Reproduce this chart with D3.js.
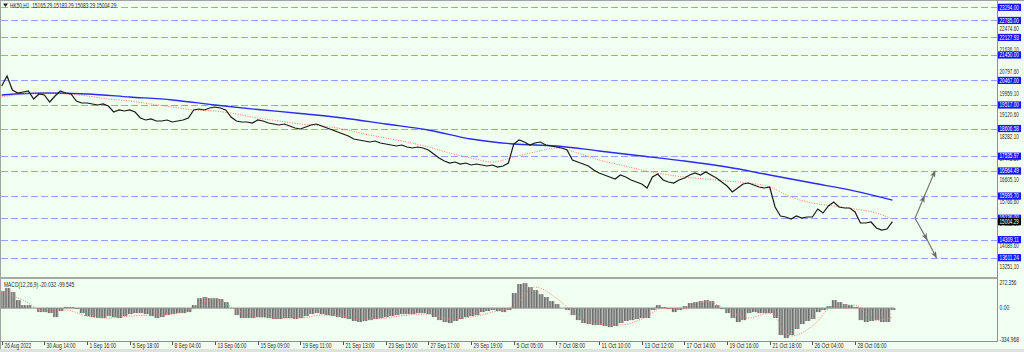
<!DOCTYPE html>
<html>
<head>
<meta charset="utf-8">
<script src="https://cdn.jsdelivr.net/npm/d3@7"></script>
<style>
body{margin:0;background:#f0fff0;}
svg{display:block;font-family:"Liberation Sans",Arial,sans-serif;}
</style>
</head>
<body>
<div id="chart"></div>
<script>
// HK50 H1 price chart with two moving averages, drawn levels and MACD(12,26,9) pane

var barStep = 4;          // one close value every 4 hourly bars
var closes = [20251,20637,20096,19980,20019,20057,19748,19941,19903,19632,
  19864,20057,19980,19941,19671,19593,19593,19555,19516,19555,
  19477,19245,19323,19284,19323,19245,19013,18936,18975,18897,
  18897,18936,18859,18897,18936,19013,19323,19361,19323,19400,
  19439,19400,19323,19052,18897,18859,18859,18820,18936,18897,
  18820,18781,18743,18781,18704,18627,18588,18665,18743,18781,
  18704,18627,18549,18472,18395,18317,18201,18163,18124,18085,
  18124,18047,18008,17969,17931,17969,17892,17853,17892,17853,
  17776,17621,17466,17351,17273,17312,17234,17273,17196,17234,
  17196,17157,17196,17118,17157,17273,18008,18163,18085,17969,
  18047,18085,17969,17931,17892,17853,17776,17389,17312,17234,
  17157,17002,16886,16809,16731,16654,16809,16731,16616,16538,
  16461,16306,16731,16847,16616,16538,16500,16616,16693,16809,
  16886,16809,16925,16809,16693,16538,16384,16152,16306,16461,
  16500,16422,16345,16306,16345,15571,15223,15185,15107,15223,
  15146,15185,15185,15494,15339,15610,15765,15571,15533,15533,
  15378,14953,14953,14991,14759,14682,14721,15004];

// slow MA (blue), one value every 32 bars plus the last bar
var maSlow = [19903,19980,19941,19825,19709,19516,19342,19187,19013,18781,
  18549,18201,18008,17931,17737,17544,17351,17118,16809,16500,16190,15842];
// fast MA (red dotted), one value every 16 bars plus the last bar
var maFast = [19825,19941,19980,19941,19864,19748,19671,19555,19439,19323,
  19284,19168,19013,18897,18781,18704,18588,18395,18240,18085,
  17892,17660,17466,17312,17505,17698,17853,17660,17389,17196,
  17002,16847,16731,16654,16577,16500,16345,15958,15726,15610,
  15494,15339,15107];

// MACD main (histogram), every 4 bars
var macdMain = [182,215,172,86,32,32,0,-43,-43,-54,
  -97,-32,11,11,-11,-54,-86,-97,-107,-107,
  -86,-97,-107,-86,-64,-54,-54,-64,-86,-107,
  -97,-75,-64,-54,-54,-43,32,107,118,107,
  107,97,64,0,-75,-107,-107,-107,-97,-97,
  -107,-118,-118,-107,-107,-118,-107,-86,-64,-54,
  -64,-75,-86,-97,-107,-118,-139,-150,-139,-129,
  -118,-107,-97,-86,-75,-64,-64,-64,-54,-54,
  -64,-97,-129,-150,-161,-139,-118,-97,-86,-75,
  -43,-32,-21,-32,-43,-21,161,258,268,225,
  193,150,118,75,43,0,-21,-75,-129,-161,
  -172,-182,-182,-193,-204,-193,-161,-139,-129,-118,
  -107,-107,-21,32,11,-11,-43,-21,21,54,
  64,75,86,75,32,-11,-54,-107,-150,-129,
  -54,-43,-54,-54,-54,-107,-290,-322,-290,-225,
  -172,-139,-118,-43,-21,21,86,64,43,32,
  11,-129,-150,-139,-129,-150,-150,-20.032];
// MACD signal (red dotted), every 16 bars plus the last bar
var macdSignal = [172,86,-32,-21,-86,-107,-86,-75,-64,0,
  97,-21,-97,-107,-107,-75,-86,-118,-107,-75,
  -64,-118,-97,-43,21,225,107,-86,-172,-182,
  -118,0,-11,75,-21,-107,-54,-300,-193,21,
  32,-129,-99.545];

var levels = [23294.00,22785.00,22127.93,21450.00,20467.00,19517.00,18606.58,
  17535.97,16964.49,15995.70,15136.00,14309.11,13611.24];
var priceTicks = [22474.60,21636.10,20797.60,19959.10,19120.60,18282.10,17443.60,
  16605.10,15766.60,14928.10,14089.60,13251.10];
var macdTicks = [272.356,0,-334.968];
var timeLabels = ["26 Aug 2022","30 Aug 14:00","1 Sep 16:00","5 Sep 18:00","8 Sep 04:00",
  "13 Sep 06:00","15 Sep 09:00","19 Sep 11:00","21 Sep 13:00","23 Sep 15:00",
  "27 Sep 17:00","29 Sep 19:00","5 Oct 05:00","7 Oct 08:00","11 Oct 10:00",
  "13 Oct 12:00","17 Oct 14:00","19 Oct 16:00","21 Oct 18:00","26 Oct 04:00","28 Oct 06:00"];
var lastPrice = 15004.29;
// projected paths drawn on the chart: [bar, price]
var arrowUp = [[685,15136.00],[692,15995.70],[700,16964.49]];
var arrowDown = [[685,15136.00],[694,14309.11],[701,13611.24]];

var W = 1024, H = 352;
var axisX = 997.5, mainBottom = 278, macdBottom = 341.5;
var lastBar = (closes.length - 1) * barStep;
var charW = 2.42;   // the terminal font is narrow

var svg = d3.select("#chart").append("svg")
    .attr("width", W)
    .attr("height", H);

svg.append("rect").attr("width", W).attr("height", H).attr("fill", "#f0fff0");

var x = d3.scaleLinear().domain([0, 746]).range([1.7, 996.4]);
var y = d3.scaleLinear().domain([13611.24, 23294]).range([257.7, 7.3]);
var yM = d3.scaleLinear().domain([-334.968, 272.356]).range([339.3, 282.7]);

var barsOf = function(arr, step){
    return arr.map((d,i) => Math.min(i*step, lastBar));
};
var fit = function(sel){
    sel.attr("textLength", function(){ return this.textContent.length * charW; })
       .attr("lengthAdjust", "spacingAndGlyphs");
};

// level lines
svg.append("g").selectAll("line")
    .data(levels)
    .enter().append("line")
    .attr("x1", 1).attr("x2", axisX)
    .attr("y1", d => Math.round(y(d)) + 0.5)
    .attr("y2", d => Math.round(y(d)) + 0.5)
    .attr("stroke", "#9aa0ff")
    .attr("stroke-width", 1)
    .attr("stroke-dasharray", "7,3");

// moving averages
var slowBars = barsOf(maSlow, 32);
svg.append("path")
    .datum(maSlow)
    .attr("fill", "none")
    .attr("stroke", "#2a2af0")
    .attr("stroke-width", 1.3)
    .attr("d", d3.line().x((d,i) => x(slowBars[i])).y(d => y(d)).curve(d3.curveMonotoneX));

var fastBars = barsOf(maFast, 16);
svg.append("path")
    .datum(maFast)
    .attr("fill", "none")
    .attr("stroke", "#f07a6a")
    .attr("stroke-width", 1)
    .attr("stroke-dasharray", "1,1.5")
    .attr("d", d3.line().x((d,i) => x(fastBars[i])).y(d => y(d)).curve(d3.curveMonotoneX));

// price
svg.append("path")
    .datum(closes)
    .attr("fill", "none")
    .attr("stroke", "#1a1a1a")
    .attr("stroke-width", 1.2)
    .attr("d", d3.line().x((d,i) => x(i*barStep)).y(d => y(d)));

// arrows
var defs = svg.append("defs");
defs.append("marker")
    .attr("id", "arr")
    .attr("viewBox", "0 0 8 6")
    .attr("refX", 7).attr("refY", 3)
    .attr("markerWidth", 6).attr("markerHeight", 5)
    .attr("orient", "auto")
    .append("path").attr("d", "M0,0L8,3L0,6L2,3z").attr("fill", "#6b6b6b");

[arrowUp, arrowDown].forEach(function(a){
    svg.append("path")
        .datum(a)
        .attr("fill", "none")
        .attr("stroke", "#7a7a7a")
        .attr("stroke-width", 1.2)
        .attr("marker-mid", "url(#arr)")
        .attr("marker-end", "url(#arr)")
        .attr("d", d3.line().x(d => x(d[0])).y(d => y(d[1])));
});

// MACD histogram stripes
var pat = defs.append("pattern")
    .attr("id", "stripes")
    .attr("patternUnits", "userSpaceOnUse")
    .attr("width", 2.667).attr("height", 10);
pat.append("rect").attr("width", 2.667).attr("height", 10).attr("fill", "#b4b8b4");
pat.append("rect").attr("width", 1.4).attr("height", 10).attr("fill", "#6c6c6c");

svg.append("g").selectAll("rect")
    .data(macdMain)
    .enter().append("rect")
    .attr("x", (d,i) => x(i*barStep) - 2)
    .attr("width", x(barStep) - x(0))
    .attr("y", d => Math.min(yM(d), yM(0)))
    .attr("height", d => Math.abs(yM(d) - yM(0)))
    .attr("fill", "url(#stripes)");

svg.append("line")
    .attr("x1", x(0) - 2).attr("x2", x(lastBar) + 2)
    .attr("y1", yM(0)).attr("y2", yM(0))
    .attr("stroke", "#8a8a8a").attr("stroke-width", 1);

var sigBars = barsOf(macdSignal, 16);
svg.append("path")
    .datum(macdSignal)
    .attr("fill", "none")
    .attr("stroke", "#f07a6a")
    .attr("stroke-width", 1)
    .attr("stroke-dasharray", "1,1.5")
    .attr("d", d3.line().x((d,i) => x(sigBars[i])).y(d => yM(d)).curve(d3.curveMonotoneX));

// frames
svg.append("line").attr("x1", 0).attr("x2", W).attr("y1", 0.5).attr("y2", 0.5).attr("stroke", "#a0a4a0");
svg.append("line").attr("x1", 0.5).attr("x2", 0.5).attr("y1", 0).attr("y2", H).attr("stroke", "#a0a4a0");
svg.append("rect").attr("x", 0).attr("y", mainBottom - 1).attr("width", axisX).attr("height", 2).attr("fill", "#a3aba3");
svg.append("line").attr("x1", 0).attr("x2", axisX).attr("y1", macdBottom).attr("y2", macdBottom).attr("stroke", "#8c918c");
svg.append("line").attr("x1", axisX).attr("x2", axisX).attr("y1", 0).attr("y2", macdBottom).attr("stroke", "#8c918c");
svg.append("rect").attr("x", 0).attr("y", 349).attr("width", W).attr("height", 3).attr("fill", "#dde2dd");

// right price axis
var pAxis = svg.append("g").attr("font-size", "6.4px").attr("fill", "#2b2b2b");
pAxis.selectAll("text.tick")
    .data(priceTicks)
    .enter().append("text")
    .attr("class", "tick")
    .attr("x", axisX + 2)
    .attr("y", d => y(d) + 2.2)
    .text(d => d.toFixed(2))
    .call(fit);

var lv = pAxis.selectAll("g.lvl")
    .data(levels)
    .enter().append("g").attr("class", "lvl");
lv.append("rect")
    .attr("x", axisX + 0.5).attr("width", 23)
    .attr("y", d => y(d) - 3.6).attr("height", 7.2)
    .attr("fill", "#1515f5");
lv.append("text")
    .attr("x", axisX + 2)
    .attr("y", d => y(d) + 2.2)
    .attr("fill", "#ffffff")
    .text(d => d.toFixed(2))
    .call(fit);

pAxis.append("rect")
    .attr("x", axisX + 0.5).attr("width", 23)
    .attr("y", y(lastPrice) - 3.6).attr("height", 7.2)
    .attr("fill", "#000000");
pAxis.append("text")
    .attr("x", axisX + 2).attr("y", y(lastPrice) + 2.2)
    .attr("fill", "#ffffff")
    .text(lastPrice.toFixed(2))
    .call(fit);

// MACD axis
pAxis.selectAll("text.mt")
    .data(macdTicks)
    .enter().append("text")
    .attr("class", "mt")
    .attr("x", axisX + 2)
    .attr("y", d => yM(d) + 2.2)
    .text(d => d === 0 ? "0.00" : d.toFixed(3))
    .call(fit);

// time axis
var tAxis = svg.append("g").attr("font-size", "6.4px").attr("fill", "#2b2b2b");
var tk = tAxis.selectAll("g")
    .data(timeLabels)
    .enter().append("g")
    .attr("transform", (d,i) => "translate(" + (Math.round(x(i*32)) + 0.5) + ",0)");
tk.append("line").attr("y1", macdBottom).attr("y2", macdBottom + 3.5).attr("stroke", "#555");
tk.append("text").attr("x", 2).attr("y", 348).text(d => d).call(fit);

// titles
svg.append("path").attr("d", "M3,3.5L8,3.5L5.5,7z").attr("fill", "#222");
svg.append("text")
    .attr("x", 10).attr("y", 7.5)
    .attr("font-size", "6.4px").attr("fill", "#2b2b2b")
    .attr("xml:space", "preserve")
    .text("HK50,H1  15165.29 15183.29 15083.29 15004.29")
    .call(fit);
svg.append("text")
    .attr("x", 4).attr("y", 287)
    .attr("font-size", "6.4px").attr("fill", "#2b2b2b")
    .text("MACD(12,26,9) -20.032 -99.545")
    .call(fit);
</script>
</body>
</html>
